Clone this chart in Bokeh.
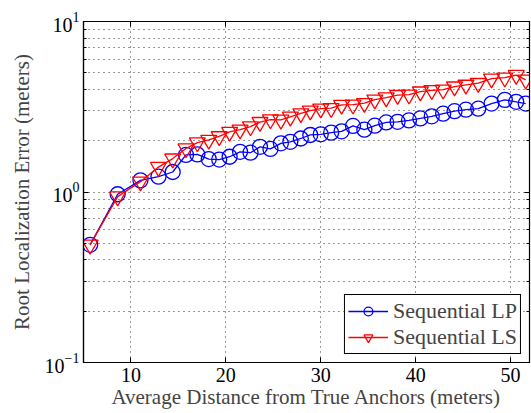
from bokeh.plotting import figure
from bokeh.models import (FixedTicker, LinearAxis, LogAxis, Legend, LegendItem,
                          Range1d)
from bokeh.embed import file_html
from bokeh.resources import INLINE

# ---- data ----
distance = [5.7, 8.6, 11.0, 12.9, 14.4, 15.8, 17.0, 18.2, 19.3, 20.4, 21.5, 22.6,
            23.6, 24.7, 25.8, 26.8, 27.9, 28.9, 30.0, 31.1, 32.2, 33.4, 34.6, 35.7,
            36.9, 38.1, 39.3, 40.5, 41.7, 42.9, 44.1, 45.3, 46.6, 48.0, 49.4, 50.6, 51.6]
seq_lp = [0.49, 0.97, 1.17, 1.23, 1.31, 1.65, 1.66, 1.56, 1.55, 1.61, 1.72, 1.70,
          1.84, 1.79, 1.93, 1.97, 2.06, 2.16, 2.18, 2.23, 2.27, 2.44, 2.32, 2.45,
          2.56, 2.58, 2.63, 2.70, 2.78, 2.88, 2.98, 3.04, 3.08, 3.30, 3.47, 3.38, 3.30]
seq_ls = [0.49, 0.94, 1.15, 1.40, 1.57, 1.80, 1.95, 2.02, 2.12, 2.25, 2.32, 2.42,
          2.57, 2.66, 2.65, 2.76, 2.89, 3.00, 3.08, 3.10, 3.24, 3.25, 3.32, 3.48,
          3.58, 3.70, 3.72, 3.88, 3.95, 3.98, 4.15, 4.25, 4.35, 4.62, 4.68, 4.85, 4.55]
x_ticks = [10, 20, 30, 40, 50]
y_ticks = [0.1, 1, 10]
y_minor = [0.2, 0.3, 0.4, 0.5, 0.6, 0.7, 0.8, 0.9, 2, 3, 4, 5, 6, 7, 8, 9]
series_names = ["Sequential LP", "Sequential LS"]

FONT = "Liberation Serif"

p = figure(width=531, height=413, y_axis_type="log",
           x_range=Range1d(5, 52), y_range=Range1d(0.1, 10),
           output_backend="svg", toolbar_location=None,
           min_border_left=83, min_border_right=2, min_border_top=21,
           min_border_bottom=51)
p.background_fill_color = "white"
p.border_fill_color = "white"
p.outline_line_color = "black"
p.outline_line_width = 1.2

# axes
for ax in [p.xaxis[0], p.yaxis[0]]:
    ax.major_label_text_font = FONT
    ax.major_label_text_font_size = "20px"
    ax.major_label_text_color = "black"
    ax.axis_label_text_font = FONT
    ax.axis_label_text_font_size = "21px"
    ax.axis_label_text_font_style = "normal"
    ax.axis_line_color = "black"
    ax.axis_line_width = 1.2
    ax.major_tick_in = 5
    ax.major_tick_out = 0
    ax.minor_tick_in = 3
    ax.minor_tick_out = 0
    ax.major_tick_line_color = "black"
p.xaxis[0].ticker = FixedTicker(ticks=x_ticks)
p.xaxis[0].minor_tick_line_color = None
p.xaxis[0].axis_label = "Average Distance from True Anchors (meters)"
p.xaxis[0].axis_label_standoff = 0
p.xaxis[0].major_label_standoff = 5
p.yaxis[0].ticker = FixedTicker(ticks=y_ticks, minor_ticks=y_minor)
p.yaxis[0].axis_label = "Root Localization Error (meters)"
p.yaxis[0].axis_label_standoff = 8
p.yaxis[0].major_label_standoff = 4

top = LinearAxis(ticker=FixedTicker(ticks=x_ticks), major_label_text_font_size="0px",
                 major_tick_in=5, major_tick_out=0, minor_tick_line_color=None,
                 major_label_standoff=0)
right = LogAxis(ticker=FixedTicker(ticks=y_ticks, minor_ticks=y_minor),
                major_label_text_font_size="0px", major_tick_in=5, major_tick_out=0,
                minor_tick_in=3, minor_tick_out=0, major_label_standoff=0)
top.major_label_text_color = None
right.major_label_text_color = None
p.add_layout(top, "above")
p.add_layout(right, "right")

# grids
p.xgrid.ticker = FixedTicker(ticks=x_ticks)
p.ygrid.ticker = FixedTicker(ticks=y_ticks, minor_ticks=y_minor)
for g in [p.xgrid[0], p.ygrid[0]]:
    g.grid_line_color = "#333333"
    g.grid_line_dash = "1 4"
    g.grid_line_width = 1
p.ygrid.minor_grid_line_color = "#333333"
p.ygrid.minor_grid_line_dash = "1 4"

# series
l1 = p.line(distance, seq_lp, color="blue", line_width=1.3)
m1 = p.scatter(distance, seq_lp, marker="circle", size=15, fill_color=None,
               line_color="blue", line_width=1.3)
l2 = p.line(distance, seq_ls, color="red", line_width=1.3)
m2 = p.scatter(distance, seq_ls, marker="inverted_triangle", size=16, fill_color=None,
               line_color="red", line_width=1.3)

legend = Legend(items=[LegendItem(label=series_names[0], renderers=[l1, m1]),
                       LegendItem(label=series_names[1], renderers=[l2, m2])],
                location="bottom_right")
legend.label_text_font = FONT
legend.label_text_font_size = "22px"
legend.border_line_color = "black"
legend.border_line_width = 1.2
legend.border_line_alpha = 1
legend.margin = 8
legend.padding = 3
legend.spacing = 0
legend.glyph_width = 40
legend.glyph_height = 22
legend.label_height = 22
legend.label_standoff = 5
p.add_layout(legend)

open("out.html", "w").write(file_html(p, INLINE))
